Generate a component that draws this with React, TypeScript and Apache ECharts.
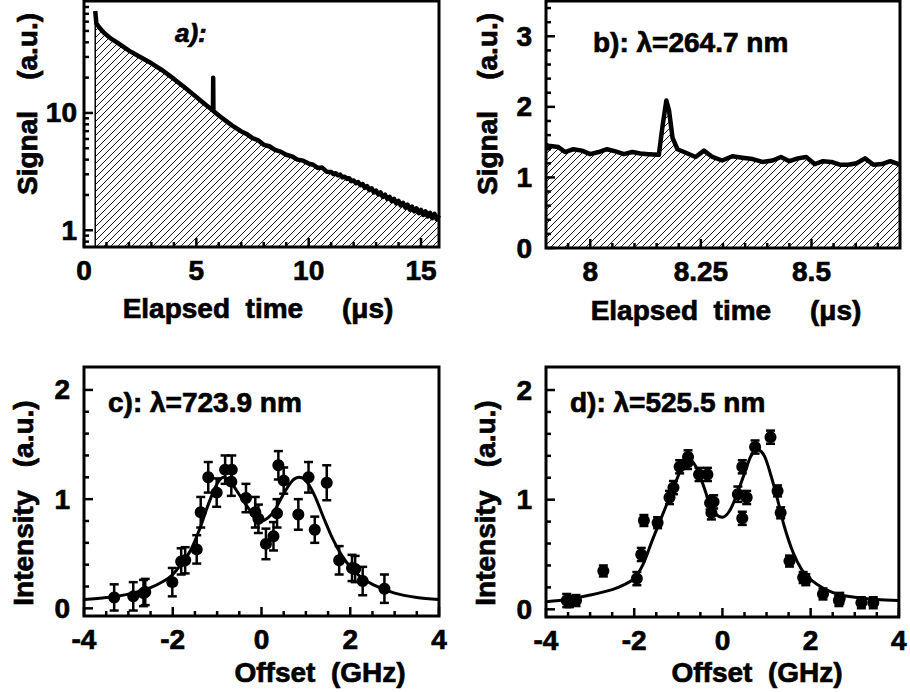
import React, { useEffect, useRef } from 'react';
import * as echarts from 'echarts';

// ---------- Panel a: decay trace (log scale) ----------
const aTime = [0.5, 0.55, 0.7, 0.9, 1.2, 1.5, 2.0, 2.5, 3.0, 3.5, 4.0, 4.5, 5.0, 5.4, 5.74, 5.75, 5.76, 6.0, 6.3, 6.6, 7.0, 7.25, 7.5, 7.75, 8.0, 8.25, 8.5, 8.75, 9.0, 9.25, 9.5, 9.75, 10.0, 10.2, 10.4, 10.6, 10.8,
  11.0, 11.1, 11.2, 11.3, 11.4, 11.5, 11.6, 11.7, 11.8, 11.9, 12.0, 12.1, 12.2, 12.3, 12.4, 12.5, 12.6, 12.7, 12.8, 12.9, 13.0, 13.1, 13.2, 13.3, 13.4, 13.5, 13.6, 13.7, 13.8, 13.9, 14.0, 14.1, 14.2, 14.3, 14.4, 14.5, 14.6, 14.7, 14.8, 14.9, 15.0, 15.1, 15.2, 15.3, 15.4, 15.5, 15.6, 15.7, 15.8];
const aSignal = [74, 58, 53, 48, 43, 39.5, 34, 30, 26.5, 23, 19.5, 16.4, 13.7, 11.8, 10.5, 20, 10.4, 9.5, 8.6, 7.8, 6.95, 6.6, 6.1, 5.85, 5.35, 5.2, 4.85, 4.68, 4.4, 4.27, 4.0, 3.92, 3.7, 3.62, 3.4, 3.42, 3.16,
  3.14, 3.02, 3.06, 2.94, 2.98, 2.82, 2.86, 2.74, 2.78, 2.62, 2.66, 2.52, 2.58, 2.42, 2.48, 2.3, 2.38, 2.2, 2.28, 2.1, 2.18, 2.02, 2.1, 1.92, 2.01, 1.85, 1.93, 1.77, 1.85, 1.69, 1.78, 1.63, 1.71, 1.56, 1.65, 1.5, 1.59, 1.45, 1.54, 1.4, 1.49, 1.35, 1.45, 1.31, 1.41, 1.27, 1.38, 1.24, 1.34];
const aRiseTime = [0.5, 0.5];
const aRiseSignal = [0.72, 74];
const aXLabels = [0, 5, 10, 15];
const aXMinor = [1, 2, 3, 4, 6, 7, 8, 9, 11, 12, 13, 14];
const aYLabels = [1, 10];
const aYMinor = [0.8, 0.9, 2, 3, 4, 5, 6, 7, 8, 9, 20, 30, 40, 50, 60, 70, 80];

// ---------- Panel b: zoomed trace ----------
const bTime = [7.9, 7.905, 7.928, 7.943, 7.962, 7.981, 8.0, 8.019, 8.038, 8.057, 8.076, 8.095, 8.113, 8.132, 8.155, 8.163, 8.172, 8.178, 8.186, 8.197, 8.216, 8.238, 8.257, 8.276, 8.298, 8.321, 8.344, 8.367, 8.389, 8.412, 8.431, 8.45, 8.469, 8.488, 8.507, 8.526, 8.545, 8.564, 8.583, 8.602, 8.621, 8.64, 8.659, 8.678, 8.7];
const bSignal = [1.46, 1.45, 1.43, 1.36, 1.4, 1.38, 1.33, 1.36, 1.4, 1.37, 1.33, 1.36, 1.34, 1.33, 1.32, 1.71, 2.09, 1.95, 1.56, 1.4, 1.35, 1.29, 1.38, 1.29, 1.24, 1.3, 1.28, 1.26, 1.22, 1.24, 1.29, 1.23, 1.27, 1.29, 1.19, 1.23, 1.22, 1.18, 1.18, 1.2, 1.27, 1.18, 1.19, 1.23, 1.18];
const bXLabels = [8, 8.25, 8.5];
const bXMinor = [7.95, 8.05, 8.1, 8.15, 8.2, 8.3, 8.35, 8.4, 8.45, 8.55, 8.6, 8.65];
const bYLabels = [0, 1, 2, 3];
const bYMinor = [0.2, 0.4, 0.6, 0.8, 1.2, 1.4, 1.6, 1.8, 2.2, 2.4, 2.6, 2.8, 3.2, 3.4];

// ---------- Panels c, d: spectra ----------
const offLabels = [-4, -2, 0, 2, 4];
const offMinor = [-3.5, -3, -2.5, -1.5, -1, -0.5, 0.5, 1, 1.5, 2.5, 3, 3.5];
const intLabels = [0, 1, 2];
const intMinor = [0.2, 0.4, 0.6, 0.8, 1.2, 1.4, 1.6, 1.8];

const cOffset = [-3.32, -2.89, -2.66, -2.62, -2.01, -1.81, -1.72, -1.46, -1.37, -1.2, -1.01, -0.82, -0.67, -0.68, -0.35, -0.14, -0.07, 0.1, 0.27, 0.35, 0.38, 0.5, 0.83, 1.06, 1.2, 1.47, 1.75, 2.04, 2.11, 2.28, 2.77];
const cIntensity = [0.1, 0.11, 0.14, 0.15, 0.24, 0.43, 0.44, 0.54, 0.88, 1.2, 1.06, 1.27, 1.27, 1.16, 1.01, 0.88, 0.82, 0.59, 0.66, 0.87, 1.31, 1.17, 0.86, 1.2, 0.72, 1.15, 0.44, 0.37, 0.36, 0.25, 0.18];
const cError = [0.12, 0.13, 0.12, 0.12, 0.13, 0.12, 0.12, 0.13, 0.14, 0.14, 0.13, 0.13, 0.13, 0.13, 0.13, 0.14, 0.13, 0.14, 0.13, 0.13, 0.13, 0.12, 0.14, 0.14, 0.12, 0.16, 0.13, 0.12, 0.12, 0.13, 0.13];
const cFitX = [-4, -3.5, -3, -2.5, -2.2, -2, -1.8, -1.6, -1.4, -1.2, -1.0, -0.85, -0.7, -0.5, -0.3, -0.15, 0, 0.15, 0.3, 0.5, 0.7, 0.85, 1.0, 1.2, 1.4, 1.6, 1.8, 2.0, 2.2, 2.5, 3.0, 3.5, 4.0];
const cFitY = [0.08, 0.1, 0.13, 0.19, 0.25, 0.31, 0.41, 0.53, 0.72, 0.95, 1.14, 1.2, 1.16, 1.04, 0.92, 0.84, 0.8, 0.83, 0.9, 1.05, 1.17, 1.2, 1.17, 1.03, 0.83, 0.64, 0.49, 0.38, 0.3, 0.22, 0.14, 0.1, 0.08];

const dOffset = [-3.53, -3.47, -3.32, -2.7, -1.94, -1.84, -1.78, -1.47, -1.2, -1.11, -0.97, -0.79, -0.78, -0.53, -0.34, -0.28, -0.25, -0.2, 0.35, 0.45, 0.45, 0.55, 0.74, 1.09, 1.25, 1.32, 1.52, 1.83, 1.89, 2.28, 2.64, 2.66, 3.15, 3.42];
const dIntensity = [0.08, 0.07, 0.08, 0.35, 0.28, 0.5, 0.81, 0.79, 1.02, 1.11, 1.3, 1.34, 1.39, 1.23, 1.23, 0.97, 0.88, 0.98, 1.05, 1.3, 0.83, 1.02, 1.48, 1.57, 1.08, 0.88, 0.44, 0.29, 0.27, 0.14, 0.08, 0.1, 0.06, 0.06];
const dError = [0.06, 0.05, 0.05, 0.05, 0.06, 0.06, 0.05, 0.05, 0.06, 0.06, 0.06, 0.06, 0.06, 0.06, 0.06, 0.06, 0.06, 0.06, 0.07, 0.06, 0.06, 0.06, 0.06, 0.06, 0.05, 0.05, 0.05, 0.05, 0.05, 0.05, 0.05, 0.05, 0.05, 0.05];
const dFitX = [-4, -3.5, -3, -2.5, -2.2, -2.0, -1.8, -1.6, -1.4, -1.2, -1.0, -0.85, -0.78, -0.6, -0.45, -0.3, -0.15, 0, 0.15, 0.3, 0.5, 0.65, 0.8, 0.95, 1.1, 1.25, 1.4, 1.6, 1.8, 2.0, 2.3, 2.6, 3.0, 3.5, 4.0];
const dFitY = [0.07, 0.09, 0.13, 0.18, 0.23, 0.28, 0.41, 0.62, 0.82, 1.02, 1.22, 1.36, 1.38, 1.3, 1.15, 0.98, 0.87, 0.84, 0.89, 1.02, 1.24, 1.4, 1.46, 1.4, 1.22, 1.0, 0.76, 0.52, 0.36, 0.27, 0.19, 0.14, 0.11, 0.09, 0.08];

const FONT = '"Liberation Sans", Arial, Helvetica, sans-serif';
const FS = 28;
const TB = 0.7;

function zip2(a: number[], b: number[]) {
  return a.map((v, i) => [v, b[i]]);
}

function hatch() {
  const s = 7;
  const c = document.createElement('canvas');
  c.width = s;
  c.height = s;
  const ctx = c.getContext('2d') as CanvasRenderingContext2D;
  ctx.strokeStyle = '#000';
  ctx.lineWidth = 0.9;
  ctx.beginPath();
  ctx.moveTo(0, s);
  ctx.lineTo(s, 0);
  ctx.moveTo(-1, 1);
  ctx.lineTo(1, -1);
  ctx.moveTo(s - 1, s + 1);
  ctx.lineTo(s + 1, s - 1);
  ctx.stroke();
  return { image: c.toDataURL(), repeat: 'repeat', imageWidth: s, imageHeight: s } as any;
}

function fmt(labels: number[]) {
  return (v: number) => {
    const hit = labels.find((l) => Math.abs(l - v) < 1e-6 * Math.max(1, Math.abs(l)));
    return hit === undefined ? '' : String(hit);
  };
}

const MAJOR = 9;
const MINOR = 5;
const TICKW = 2.5;

function xTicks(g: number, vals: number[], yRef: number, len: number) {
  return {
    type: 'custom', xAxisIndex: g, yAxisIndex: g, silent: true, clip: false, z: 5,
    data: vals.map((v) => [v, yRef]),
    encode: { x: 0, y: 1 },
    renderItem: (params: any, api: any) => {
      const cs = params.coordSys;
      const px = api.coord([api.value(0), api.value(1)])[0];
      const yb = cs.y + cs.height;
      return { type: 'line', shape: { x1: px, y1: yb, x2: px, y2: yb - len }, style: { stroke: '#000', lineWidth: TICKW } };
    },
  };
}

function yTicks(g: number, vals: number[], xRef: number, len: number) {
  return {
    type: 'custom', xAxisIndex: g, yAxisIndex: g, silent: true, clip: false, z: 5,
    data: vals.map((v) => [xRef, v]),
    encode: { x: 0, y: 1 },
    renderItem: (params: any, api: any) => {
      const cs = params.coordSys;
      const py = api.coord([api.value(0), api.value(1)])[1];
      return { type: 'line', shape: { x1: cs.x, y1: py, x2: cs.x + len, y2: py }, style: { stroke: '#000', lineWidth: TICKW } };
    },
  };
}

function errorBars(g: number, xs: number[], ys: number[], es: number[]) {
  return {
    type: 'custom', xAxisIndex: g, yAxisIndex: g, silent: true, z: 4,
    data: xs.map((x, i) => [x, ys[i], es[i]]),
    encode: { x: 0, y: 1 },
    renderItem: (params: any, api: any) => {
      const x = api.value(0);
      const y = api.value(1);
      const e = api.value(2);
      const t = api.coord([x, y + e]);
      const b = api.coord([x, y - e]);
      const hw = 4.5;
      const st = { stroke: '#000', lineWidth: 2.5 };
      return {
        type: 'group',
        children: [
          { type: 'line', shape: { x1: t[0], y1: t[1], x2: b[0], y2: b[1] }, style: st },
          { type: 'line', shape: { x1: t[0] - hw, y1: t[1], x2: t[0] + hw, y2: t[1] }, style: st },
          { type: 'line', shape: { x1: b[0] - hw, y1: b[1], x2: b[0] + hw, y2: b[1] }, style: st },
        ],
      };
    },
  };
}

function txt(x: number, y: number, text: string, opts: any = {}) {
  return {
    type: 'text', x, y, rotation: opts.rot || 0, z: 10,
    style: {
      text, fill: '#000', stroke: '#000', lineWidth: TB,
      font: `${opts.italic ? 'italic ' : ''}bold ${opts.size || FS}px ${FONT}`,
      textAlign: opts.align || 'center', textVerticalAlign: 'middle',
    },
  };
}

export default function App() {
  const ref = useRef<HTMLDivElement>(null);
  useEffect(() => {
    document.body.style.margin = '0';
    const chart = echarts.init(ref.current as HTMLDivElement, null as any, { renderer: 'svg' });
    const pattern = hatch();
    const label = (labels: number[], margin: number) => ({
      show: true, color: '#000', fontSize: FS, fontWeight: 'bold', fontFamily: FONT, margin, formatter: fmt(labels),
      textBorderColor: '#000', textBorderWidth: TB,
    });
    const axBase = { axisLine: { show: false }, axisTick: { show: false }, splitLine: { show: false } };
    const gridBase = { show: true, borderColor: '#000', borderWidth: 3, backgroundColor: 'transparent', containLabel: false };
    const option: any = {
      animation: false,
      grid: [
        { ...gridBase, left: 84, top: 1, width: 355, height: 246 },
        { ...gridBase, left: 546, top: 1, width: 354, height: 247 },
        { ...gridBase, left: 84, top: 367, width: 355, height: 249 },
        { ...gridBase, left: 546, top: 367, width: 355, height: 250 },
      ],
      xAxis: [
        { ...axBase, gridIndex: 0, type: 'value', min: 0, max: 15.8, interval: 5, axisLabel: label(aXLabels, 9) },
        { ...axBase, gridIndex: 1, type: 'value', min: 7.9, max: 8.7, interval: 0.05, axisLabel: label(bXLabels, 9) },
        { ...axBase, gridIndex: 2, type: 'value', min: -4, max: 4, interval: 2, axisLabel: label(offLabels, 9) },
        { ...axBase, gridIndex: 3, type: 'value', min: -4, max: 4, interval: 2, axisLabel: label(offLabels, 9) },
      ],
      yAxis: [
        { ...axBase, gridIndex: 0, type: 'log', logBase: 10, min: 0.72, max: 90, axisLabel: label(aYLabels, 7) },
        { ...axBase, gridIndex: 1, type: 'value', min: 0, max: 3.5, interval: 1, axisLabel: label(bYLabels, 14) },
        { ...axBase, gridIndex: 2, type: 'value', min: -0.07, max: 2.21, axisLabel: label(intLabels, 14) },
        { ...axBase, gridIndex: 3, type: 'value', min: -0.07, max: 2.21, axisLabel: label(intLabels, 14) },
      ],
      series: [
        {
          type: 'line', xAxisIndex: 0, yAxisIndex: 0, data: zip2(aRiseTime, aRiseSignal), showSymbol: false,
          lineStyle: { color: '#000', width: 1.5 }, silent: true,
        },
        {
          type: 'line', xAxisIndex: 0, yAxisIndex: 0, data: zip2(aTime, aSignal), showSymbol: false,
          lineStyle: { color: '#000', width: 4.5, join: 'round' }, areaStyle: { color: pattern, opacity: 1, origin: 0.72 }, silent: true,
        },
        {
          type: 'line', xAxisIndex: 1, yAxisIndex: 1, data: zip2(bTime, bSignal), showSymbol: false,
          lineStyle: { color: '#000', width: 4.5, join: 'round' }, areaStyle: { color: pattern, opacity: 1, origin: 0 }, silent: true,
        },
        {
          type: 'line', xAxisIndex: 2, yAxisIndex: 2, data: zip2(cFitX, cFitY), showSymbol: false, smooth: 0.3,
          lineStyle: { color: '#000', width: 3 }, silent: true,
        },
        errorBars(2, cOffset, cIntensity, cError),
        {
          type: 'scatter', xAxisIndex: 2, yAxisIndex: 2, data: zip2(cOffset, cIntensity), symbol: 'circle', symbolSize: 12,
          itemStyle: { color: '#000', opacity: 1 }, silent: true, z: 6,
        },
        {
          type: 'line', xAxisIndex: 3, yAxisIndex: 3, data: zip2(dFitX, dFitY), showSymbol: false, smooth: 0.3,
          lineStyle: { color: '#000', width: 3 }, silent: true,
        },
        errorBars(3, dOffset, dIntensity, dError),
        {
          type: 'scatter', xAxisIndex: 3, yAxisIndex: 3, data: zip2(dOffset, dIntensity), symbol: 'circle', symbolSize: 12,
          itemStyle: { color: '#000', opacity: 1 }, silent: true, z: 6,
        },
        xTicks(0, aXLabels, 1, MAJOR), xTicks(0, aXMinor, 1, MINOR),
        yTicks(0, aYLabels, 0, MAJOR), yTicks(0, aYMinor, 0, MINOR),
        xTicks(1, bXLabels, 1, MAJOR), xTicks(1, bXMinor, 1, MINOR),
        yTicks(1, bYLabels, 7.9, MAJOR), yTicks(1, bYMinor, 7.9, MINOR),
        xTicks(2, offLabels, 1, MAJOR), xTicks(2, offMinor, 1, MINOR),
        yTicks(2, intLabels, -4, MAJOR), yTicks(2, intMinor, -4, MINOR),
        xTicks(3, offLabels, 1, MAJOR), xTicks(3, offMinor, 1, MINOR),
        yTicks(3, intLabels, -4, MAJOR), yTicks(3, intMinor, -4, MINOR),
      ],
      graphic: [
        txt(27, 104, 'Signal    (a.u.)', { rot: Math.PI / 2 }),
        txt(258, 308, 'Elapsed  time     (μs)'),
        txt(175, 33, 'a):', { italic: true, align: 'left', size: 26 }),
        txt(487, 104, 'Signal    (a.u.)', { rot: Math.PI / 2 }),
        txt(726, 310, 'Elapsed  time     (μs)'),
        txt(593, 42, 'b): λ=264.7 nm', { align: 'left' }),
        txt(23, 503, 'Intensity   (a.u.)', { rot: Math.PI / 2 }),
        txt(320, 672, 'Offset  (GHz)'),
        txt(108, 402, 'c): λ=723.9 nm', { align: 'left' }),
        txt(485, 503, 'Intensity   (a.u.)', { rot: Math.PI / 2 }),
        txt(757, 672, 'Offset  (GHz)'),
        txt(570, 402, 'd): λ=525.5 nm', { align: 'left' }),
      ],
    };
    chart.setOption(option);
    return () => chart.dispose();
  }, []);
  return <div ref={ref} style={{ width: 910, height: 692 }} />;
}
